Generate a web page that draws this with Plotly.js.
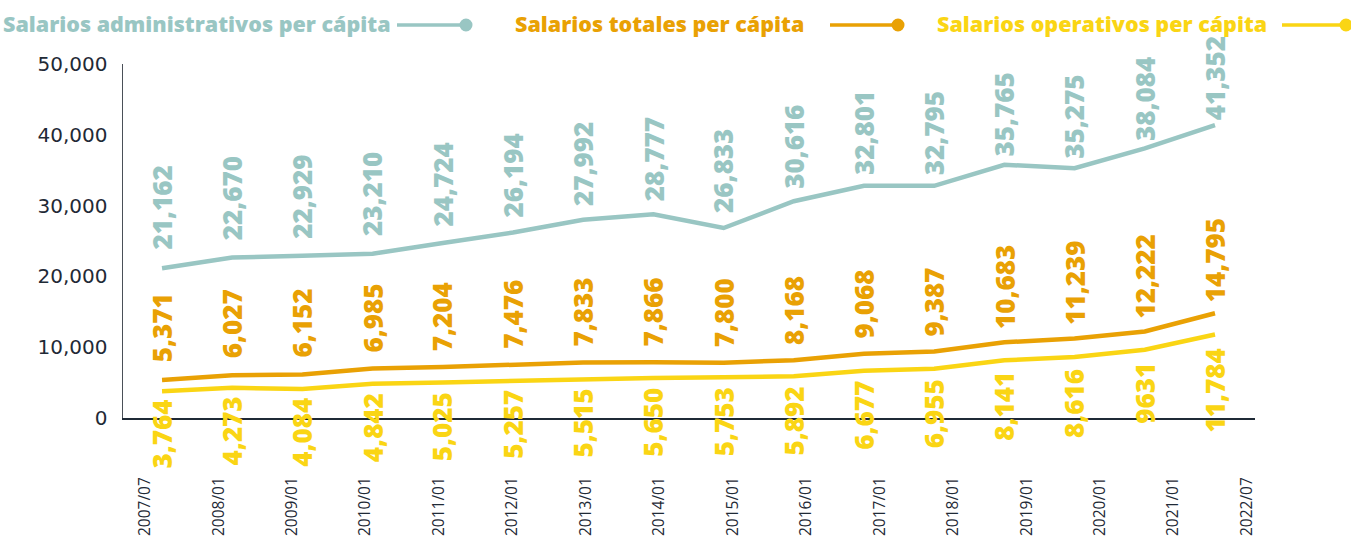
<!DOCTYPE html>
<html>
<head>
<meta charset="utf-8">
<script src="https://cdn.plot.ly/plotly-3.0.1.min.js"></script>
<style>
html,body{margin:0;padding:0;background:#fff;}
#chart{width:1351px;height:537px;}
</style>
</head>
<body>
<div id="chart"></div>
<script>
// ---- data ----
const tickLabels = ['2007/07','2008/01','2009/01','2010/01','2011/01','2012/01','2013/01','2014/01',
  '2015/01','2016/01','2017/01','2018/01','2019/01','2020/01','2021/01','2022/07'];
const administrativos = [21162,22670,22929,23210,24724,26194,27992,28777,26833,30616,32801,32795,35765,35275,38084,41352];
const totales = [5371,6027,6152,6985,7204,7476,7833,7866,7800,8168,9068,9387,10683,11239,12222,14795];
const operativos = [3764,4273,4084,4842,5025,5257,5515,5650,5753,5892,6677,6955,8141,8616,9631,11784];
const operativosText = ['3,764','4,273','4,084','4,842','5,025','5,257','5,515','5,650','5,753','5,892','6,677','6,955','8,141','8,616','9631','11,784'];
const seriesNames = ['Salarios administrativos per cápita','Salarios totales per cápita','Salarios operativos per cápita'];

// ---- styles ----
const COL_ADM = '#99c6c3', COL_TOT = '#e9a104', COL_OPE = '#fad514';
const AXIS_FONT = 'DejaVu Sans, sans-serif';
const TICK_FONT = 'Open Sans, sans-serif';
const LABEL_FONT = 'Open Sans, sans-serif';
const fmt = v => v.toLocaleString('en-US');

const W = 1351, H = 537, ML = 123, MR = 96, MT = 64, MB = 119;
const PW = W - ML - MR, PH = H - MT - MB;
const px = x => (x - ML) / PW;
const py = y => (H - MB - y) / PH;

const idx = administrativos.map((_, i) => i);

function lineTrace(vals, color, name) {
  return {x: idx, y: vals, type: 'scatter', mode: 'lines', name: name,
    xaxis: 'x2', yaxis: 'y', line: {color: color, width: 4.5}, hoverinfo: 'y', showlegend: false};
}
const data = [
  // carrier for the category (tick-label) axis, draws nothing
  {x: [], y: [], type: 'scatter', mode: 'lines', xaxis: 'x', yaxis: 'y', showlegend: false, hoverinfo: 'skip'},
  lineTrace(administrativos, COL_ADM, seriesNames[0]),
  lineTrace(totales, COL_TOT, seriesNames[1]),
  lineTrace(operativos, COL_OPE, seriesNames[2])
];

// label offset (px) shrinks slightly as the value grows, as in the original artwork
const K = 0.00068;
const annotations = [];
function addLabels(vals, texts, color, above, base) {
  vals.forEach((v, i) => {
    annotations.push({
      xref: 'x2', yref: 'y', x: i, y: v, text: texts[i], showarrow: false,
      textangle: -90, xanchor: 'center', yanchor: above ? 'bottom' : 'top',
      yshift: above ? (base - K * v) : -(base + K * v), borderpad: 0,
      font: {family: LABEL_FONT, size: 26, weight: 800, color: color}
    });
  });
}
addLabels(administrativos, administrativos.map(fmt), COL_ADM, true, 32);
addLabels(totales, totales.map(fmt), COL_TOT, true, 20);
addLabels(operativos, operativosText, COL_OPE, false, 5);

// legend (text + line + dot on the right)
const legendItems = [
  {name: seriesNames[0], color: COL_ADM, textEnd: 392, l0: 397, l1: 466},
  {name: seriesNames[1], color: COL_TOT, textEnd: 805, l0: 830, l1: 898},
  {name: seriesNames[2], color: COL_OPE, textEnd: 1268, l0: 1282, l1: 1346}
];
const shapes = [];
legendItems.forEach(it => {
  annotations.push({
    xref: 'paper', yref: 'paper', x: px(it.textEnd), y: py(23), xanchor: 'right', yanchor: 'middle',
    text: it.name, showarrow: false, borderpad: 0,
    font: {family: LABEL_FONT, size: 21.5, weight: 800, color: it.color}
  });
  shapes.push({type: 'line', xref: 'paper', yref: 'paper', x0: px(it.l0), x1: px(it.l1), y0: py(25), y1: py(25),
    line: {color: it.color, width: 3.5}});
  shapes.push({type: 'circle', xref: 'paper', yref: 'paper', x0: px(it.l1 - 6.5), x1: px(it.l1 + 6.5),
    y0: py(25 + 6.5), y1: py(25 - 6.5), fillcolor: it.color, line: {width: 0}});
});

const layout = {
  width: W, height: H,
  margin: {l: ML, r: MR, t: MT, b: MB, pad: 0},
  paper_bgcolor: '#fff', plot_bgcolor: 'rgba(0,0,0,0)',
  showlegend: false,
  xaxis: {
    range: [-0.30, 15.11], tickmode: 'array', tickvals: idx, ticktext: tickLabels,
    tickangle: -90, ticks: '', showgrid: false, zeroline: false,
    showline: true, linecolor: '#1f2a36', linewidth: 2,
    ticklabelstandoff: 51,
    tickfont: {family: TICK_FONT, size: 15.5, color: '#1f2a36'}, fixedrange: true
  },
  xaxis2: {
    overlaying: 'x', anchor: 'y', range: [-0.556, 15.57], visible: false, showgrid: false, zeroline: false, fixedrange: true
  },
  yaxis: {
    range: [0, 50000], dtick: 10000, tickformat: ',', ticks: '', showgrid: false, zeroline: false,
    showline: true, linecolor: '#4a5058', linewidth: 1.5, ticklabelstandoff: 10,
    tickfont: {family: AXIS_FONT, size: 20, color: '#1f2a36'}, fixedrange: true
  },
  annotations: annotations,
  shapes: shapes
};

Plotly.newPlot('chart', data, layout, {displayModeBar: false, staticPlot: true});
</script>
</body>
</html>
